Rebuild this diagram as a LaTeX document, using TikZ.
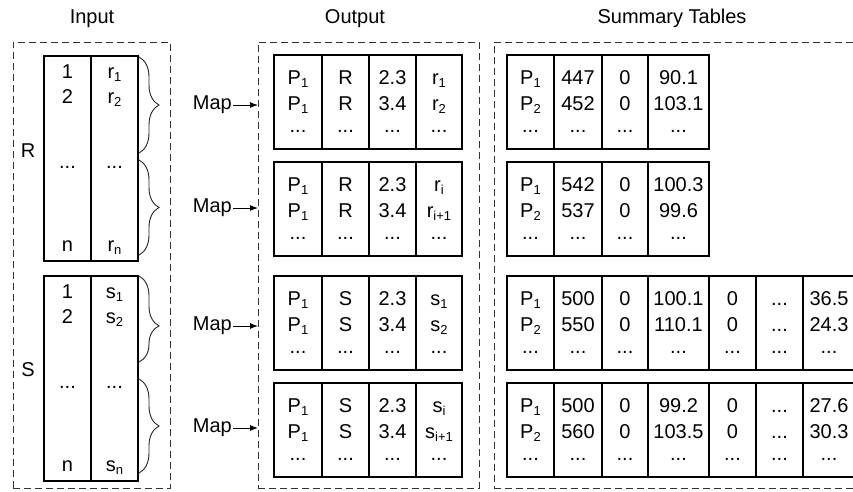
\documentclass[tikz,border=0pt]{standalone}
\usepackage{fontspec}
\setmainfont{Liberation Sans}
\usetikzlibrary{arrows.meta,decorations.pathreplacing}
\newcommand{\subs}[1]{\raisebox{-3pt}[0pt][0pt]{\fontsize{13}{13}\selectfont #1}}

\begin{document}
\begin{tikzpicture}[x=1pt, y=-1pt,
	every node/.style={font=\fontsize{20}{26}\selectfont},
	frame/.style={draw=black!80, line width=0.9pt, dash pattern=on 7pt off 4pt, anchor=north west, inner sep=0pt, outer sep=0pt, minimum height=446},
	cell/.style={draw, line width=1.1pt, anchor=north west, align=center, inner sep=0pt, outer sep=0pt, minimum height=94},
	col/.style={cell, minimum height=205},
	title/.style={anchor=base},
	maplabel/.style={anchor=east, inner sep=1pt},
	maparrow/.style={-{Latex[length=8pt, width=6pt]}, line width=1pt},
	curly/.style={decorate, decoration={brace, amplitude=20pt}, draw=black!85, line width=0.9pt}]
			%%%%% START %%%%%
			\useasboundingbox (0,0) rectangle (853,491);
			\clip (0,0) rectangle (853,491);
			
			\node[title] (tin) at (92,23) {Input};
			\node[title] (tout) at (355,23) {Output};
			\node[title] (tsum) at (672,23) {Summary Tables};
			
			\node[frame, minimum width=157] (inframe) at (13,42) {};
			\node[frame, minimum width=221] (outframe) at (258,42) {};
			\node[frame, minimum width=380] (sumframe) at (494,42) {};
			
			% input relations R and S
			\node[title] (rname) at (28,157) {R};
			\node[col, minimum width=47] (in1a) at (44,56) {1\\[-1pt]2\\[39pt]...\\[57pt]n};
			\node[col, minimum width=47] (in1b) at (91,56) {\vphantom{1}r\subs1\\[-1pt]r\subs2\\[39pt]...\\[57pt]r\subs{n}};
			
			\node[title] (sname) at (28,376) {S};
			\node[col, minimum width=47] (in2a) at (44,276) {1\\[-1pt]2\\[39pt]...\\[57pt]n};
			\node[col, minimum width=47] (in2b) at (91,276) {\vphantom{1}s\subs1\\[-1pt]s\subs2\\[39pt]...\\[57pt]s\subs{n}};
			
			\draw[curly] (139,57) -- (139,153);
			\draw[curly] (139,160) -- (139,255);
			\draw[curly, decoration={aspect=0.58}] (139,276) -- (139,362);
			\draw[curly] (139,379) -- (139,473);
			
			% map steps
			\node[maplabel] (map1) at (233,105) {Map};
			\node[maplabel] (map2) at (233,208) {Map};
			\node[maplabel] (map3) at (233,326) {Map};
			\node[maplabel] (map4) at (233,428) {Map};
			\draw[maparrow] (map1) -- (map1 -| outframe.west);
			\draw[maparrow] (map2) -- (map2 -| outframe.west);
			\draw[maparrow] (map3) -- (map3 -| outframe.west);
			\draw[maparrow] (map4) -- (map4 -| outframe.west);
			
			% map output
			\node[cell, minimum width=48] (out1a) at (274,55) {P\subs1\\P\subs1\\[-4pt]...};
			\node[cell, minimum width=47] (out1b) at (322,55) {R\\R\\[-4pt]...};
			\node[cell, minimum width=47] (out1c) at (369,55) {2.3\\3.4\\[-4pt]...};
			\node[cell, minimum width=46] (out1d) at (416,55) {\vphantom{1}r\subs1\\r\subs2\\[-4pt]...};
			
			\node[cell, minimum width=48] (out2a) at (274,162) {P\subs1\\P\subs1\\[-4pt]...};
			\node[cell, minimum width=47] (out2b) at (322,162) {R\\R\\[-4pt]...};
			\node[cell, minimum width=47] (out2c) at (369,162) {2.3\\3.4\\[-4pt]...};
			\node[cell, minimum width=46] (out2d) at (416,162) {\vphantom{1}r\subs{i}\\r\subs{i+1}\\[-4pt]...};
			
			\node[cell, minimum width=48] (out3a) at (274,276) {P\subs1\\P\subs1\\[-4pt]...};
			\node[cell, minimum width=47] (out3b) at (322,276) {S\\S\\[-4pt]...};
			\node[cell, minimum width=47] (out3c) at (369,276) {2.3\\3.4\\[-4pt]...};
			\node[cell, minimum width=46] (out3d) at (416,276) {\vphantom{1}s\subs1\\s\subs2\\[-4pt]...};
			
			\node[cell, minimum width=48] (out4a) at (274,383) {P\subs1\\P\subs1\\[-4pt]...};
			\node[cell, minimum width=47] (out4b) at (322,383) {S\\S\\[-4pt]...};
			\node[cell, minimum width=47] (out4c) at (369,383) {2.3\\3.4\\[-4pt]...};
			\node[cell, minimum width=46] (out4d) at (416,383) {\vphantom{1}s\subs{i}\\s\subs{i+1}\\[-4pt]...};
			
			% summary tables
			\node[cell, minimum width=47] (sum1a) at (507,55) {P\subs1\\P\subs2\\[-4pt]...};
			\node[cell, minimum width=48] (sum1b) at (554,55) {447\\452\\[-4pt]...};
			\node[cell, minimum width=46] (sum1c) at (602,55) {0\\0\\[-4pt]...};
			\node[cell, minimum width=61] (sum1d) at (648,55) {90.1\\103.1\\[-4pt]...};
			
			\node[cell, minimum width=47] (sum2a) at (507,162) {P\subs1\\P\subs2\\[-4pt]...};
			\node[cell, minimum width=48] (sum2b) at (554,162) {542\\537\\[-4pt]...};
			\node[cell, minimum width=46] (sum2c) at (602,162) {0\\0\\[-4pt]...};
			\node[cell, minimum width=61] (sum2d) at (648,162) {100.3\\99.6\\[-4pt]...};
			
			\node[cell, minimum width=47] (sum3a) at (507,276) {P\subs1\\P\subs2\\[-4pt]...};
			\node[cell, minimum width=48] (sum3b) at (554,276) {500\\550\\[-4pt]...};
			\node[cell, minimum width=46] (sum3c) at (602,276) {0\\0\\[-4pt]...};
			\node[cell, minimum width=61] (sum3d) at (648,276) {100.1\\110.1\\[-4pt]...};
			\node[cell, minimum width=47] (sum3e) at (709,276) {0\\0\\[-4pt]...};
			\node[cell, minimum width=47] (sum3f) at (756,276) {\vphantom{1}...\\...\\[-4pt]...};
			\node[cell, minimum width=52] (sum3g) at (803,276) {36.5\\24.3\\[-4pt]...};
			
			\node[cell, minimum width=47] (sum4a) at (507,383) {P\subs1\\P\subs2\\[-4pt]...};
			\node[cell, minimum width=48] (sum4b) at (554,383) {500\\560\\[-4pt]...};
			\node[cell, minimum width=46] (sum4c) at (602,383) {0\\0\\[-4pt]...};
			\node[cell, minimum width=61] (sum4d) at (648,383) {99.2\\103.5\\[-4pt]...};
			\node[cell, minimum width=47] (sum4e) at (709,383) {0\\0\\[-4pt]...};
			\node[cell, minimum width=47] (sum4f) at (756,383) {\vphantom{1}...\\...\\[-4pt]...};
			\node[cell, minimum width=52] (sum4g) at (803,383) {27.6\\30.3\\[-4pt]...};
			%%%%% END %%%%%
\end{tikzpicture}
\end{document}
